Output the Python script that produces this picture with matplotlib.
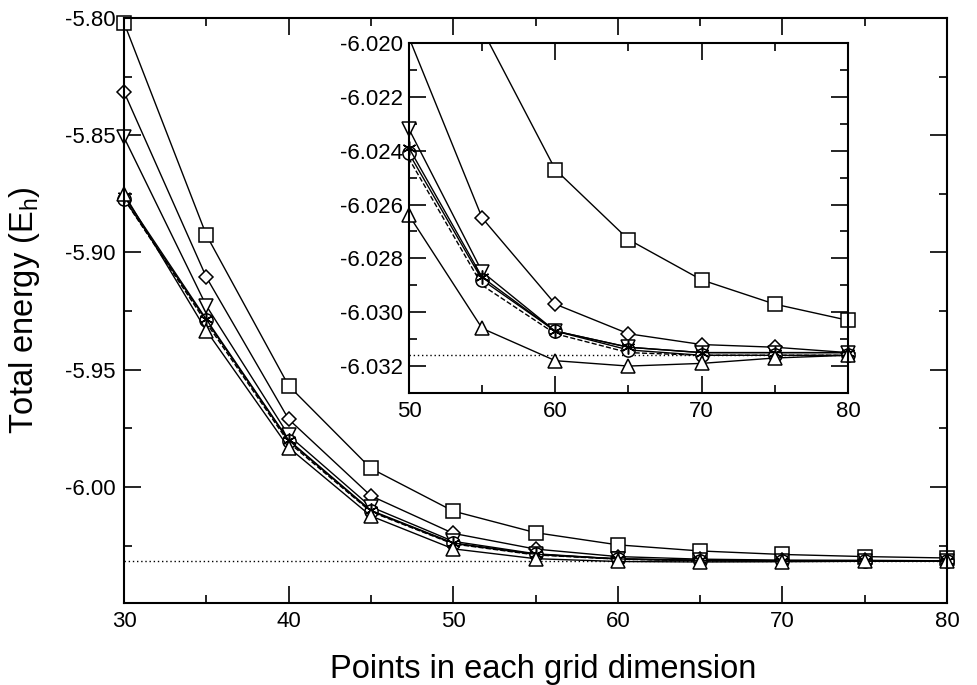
"""Total energy convergence vs grid points, with zoomed inset."""

import numpy as np
import matplotlib
matplotlib.use('Agg')
import matplotlib.pyplot as plt
from matplotlib.ticker import MultipleLocator, FormatStrFormatter

plt.rcParams['font.family'] = ['Liberation Sans', 'DejaVu Sans']
plt.rcParams['axes.unicode_minus'] = False
plt.rcParams['mathtext.default'] = 'regular'

# grid points
points = [30, 35, 40, 45, 50, 55, 60, 65, 70, 75, 80]

# total energies (E_h) for each series
e_square = [-5.802, -5.8925, -5.9568, -5.9921, -6.0103, -6.0195, -6.0247, -6.0273, -6.0288, -6.0297, -6.0303]
e_diamond = [-5.8315, -5.9105, -5.9711, -6.0038, -6.0198, -6.0265, -6.0297, -6.0308, -6.0312, -6.0313, -6.0315]
e_tri_down = [-5.8509, -5.9227, -5.9780, -6.0085, -6.0232, -6.0285, -6.0307, -6.0313, -6.0315, -6.0315, -6.0315]
e_circle = [-5.8770, -5.9290, -5.9803, -6.0103, -6.0241, -6.0288, -6.0307, -6.0314, -6.0316, -6.0316, -6.0316]
e_star = [-5.8760, -5.9285, -5.9800, -6.0100, -6.0239, -6.0287, -6.0307, -6.0313, -6.0315, -6.0315, -6.0315]
e_tri_up = [-5.8750, -5.9333, -5.9832, -6.0124, -6.0264, -6.0306, -6.0318, -6.0320, -6.0319, -6.0317, -6.0316]
e_dashed = [-5.8772, -5.9300, -5.9810, -6.0106, -6.0243, -6.0290, -6.0308, -6.0315, -6.0316, -6.0316, -6.0316]

e_ref = -6.0316

series = [
    (e_square, 's', 10),
    (e_diamond, 'D', 7),
    (e_tri_down, 'v', 9.5),
    (e_circle, 'o', 9.5),
    (e_star, (6, 2, 0), 10),
    (e_tri_up, '^', 9.5),
]

fig = plt.figure(figsize=(9.77, 6.85), dpi=100)
ax = fig.add_axes([124 / 977, 1 - 603 / 685, 823 / 977, 585 / 685])

line_kw = dict(color='black', lw=1.0, mfc='white', mec='black', mew=1.1)


def style_axes(a, fs, ypad=6):
    a.tick_params(which='both', direction='in', top=True, right=True,
                  labelsize=fs, width=1.2, pad=6)
    a.tick_params(axis='y', pad=ypad)
    a.tick_params(which='major', length=12)
    a.tick_params(which='minor', length=6)
    for s in a.spines.values():
        s.set_linewidth(1.5)


# main panel
ax.axhline(e_ref, color='black', lw=1.0, ls=(0, (1, 2)))
ax.plot(points, e_dashed, color='black', lw=1.0, ls='--')
for vals, mk, ms in series:
    ax.plot(points, vals, marker=mk, ms=ms, clip_on=False, **line_kw)
ax.set_xlim(30, 80)
ax.set_ylim(-6.0495, -5.80)
ax.xaxis.set_major_locator(MultipleLocator(10))
ax.xaxis.set_minor_locator(MultipleLocator(5))
ax.yaxis.set_major_locator(MultipleLocator(0.05))
ax.yaxis.set_minor_locator(MultipleLocator(0.025))
ax.yaxis.set_major_formatter(FormatStrFormatter('%.2f'))
style_axes(ax, 16)

fig.text(543 / 977, 1 - 678 / 685, 'Points in each grid dimension',
         ha='center', va='baseline', fontsize=23.5)
fig.text(25 / 977, 1 - 310 / 685, 'Total energy (E$_h$)',
         ha='center', va='center', rotation=90, fontsize=23.5)

# inset
ins = fig.add_axes([409 / 977, 1 - 393 / 685, 439 / 977, 350 / 685])
ins.set_facecolor('white')
ylo, yhi = -6.033, -6.020
ins.axhline(e_ref, color='black', lw=1.0, ls=(0, (1, 2)))
ins.plot(points, e_dashed, color='black', lw=1.0, ls='--')
for vals, mk, ms in series:
    ins.plot(points, vals, color='black', lw=1.0)
    px = [p for p, v in zip(points, vals) if p >= 50 and ylo <= v <= yhi]
    pv = [v for p, v in zip(points, vals) if p >= 50 and ylo <= v <= yhi]
    ins.plot(px, pv, ls='none', marker=mk, ms=ms, mfc='white', mec='black',
             mew=1.1, clip_on=False)
ins.set_xlim(50, 80)
ins.set_ylim(ylo, yhi)
ins.xaxis.set_major_locator(MultipleLocator(10))
ins.xaxis.set_minor_locator(MultipleLocator(5))
ins.yaxis.set_major_locator(MultipleLocator(0.002))
ins.yaxis.set_minor_locator(MultipleLocator(0.001))
ins.yaxis.set_major_formatter(FormatStrFormatter('%.3f'))
style_axes(ins, 16, ypad=4.5)

fig.savefig('out.png', dpi=100)
plt.close()
